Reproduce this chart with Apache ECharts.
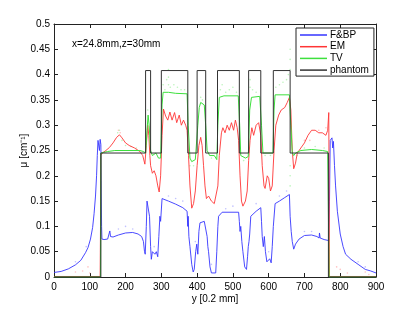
<!DOCTYPE html>
<html>
<head>
<meta charset="utf-8">
<script src="https://cdn.jsdelivr.net/npm/echarts@6/dist/echarts.min.js"></script>
<style>html,body{margin:0;padding:0;background:#fff;}#c{width:415px;height:313px;}</style>
</head>
<body>
<div id="c"></div>
<script>
const xTicks = [0, 100, 200, 300, 400, 500, 600, 700, 800, 900];
const yTicks = [0, 0.05, 0.1, 0.15, 0.2, 0.25, 0.3, 0.35, 0.4, 0.45, 0.5];
const seriesNames = ['F&BP', 'EM', 'TV', 'phantom'];

const fbp = [[0,0.009],[20,0.011],[40,0.016],[60,0.024],[75,0.033],[88,0.048],[95,0.058],[102,0.075],[108,0.098],[112,0.125],[116,0.16],[119,0.2],[121,0.24],[123,0.27],[125,0.268],[127,0.25],[129,0.272],[131,0.262],[132,0.19],[133,0.1],[134,0.075],[140,0.074],[150,0.075],[154,0.078],[156,0.091],[158,0.08],[165,0.079],[180,0.083],[200,0.087],[220,0.088],[235,0.085],[245,0.08],[250,0.07],[253,0.05],[255,0.045],[258,0.1],[260,0.15],[264,0.148],[267,0.12],[270,0.06],[272,0.035],[275,0.05],[278,0.052],[282,0.045],[286,0.05],[290,0.04],[293,0.08],[296,0.12],[298,0.11],[302,0.155],[320,0.15],[340,0.144],[360,0.137],[372,0.13],[374,0.1],[375,0.12],[377,0.08],[380,0.06],[385,0.025],[389,0.01],[392,0.015],[396,0.05],[399,0.065],[402,0.045],[405,0.09],[408,0.107],[420,0.11],[425,0.108],[428,0.08],[430,0.06],[432,0.05],[436,0.02],[440,0.008],[452,0.008],[455,0.05],[458,0.1],[460,0.12],[470,0.128],[516,0.128],[518,0.11],[520,0.09],[522,0.1],[525,0.07],[528,0.05],[533,0.02],[538,0.015],[541,0.04],[543,0.06],[545,0.07],[547,0.085],[550,0.12],[565,0.13],[578,0.137],[580,0.11],[582,0.08],[585,0.06],[588,0.08],[591,0.05],[595,0.03],[600,0.032],[603,0.036],[607,0.028],[610,0.06],[613,0.1],[618,0.145],[630,0.15],[645,0.157],[658,0.163],[660,0.12],[663,0.09],[666,0.07],[670,0.055],[675,0.065],[685,0.075],[700,0.082],[720,0.083],[735,0.08],[741,0.077],[742,0.087],[744,0.077],[755,0.074],[768,0.072],[770,0.15],[772,0.27],[775,0.27],[777,0.275],[779,0.255],[781,0.268],[784,0.22],[787,0.18],[792,0.13],[800,0.085],[808,0.06],[815,0.045],[830,0.035],[850,0.025],[870,0.015],[885,0.012],[900,0.008]];

const em = [[0,0.001],[129,0.001],[130,0.1],[131,0.24],[135,0.245],[145,0.25],[155,0.256],[165,0.265],[175,0.276],[183,0.281],[190,0.275],[200,0.265],[210,0.26],[225,0.255],[240,0.248],[248,0.24],[254,0.223],[258,0.26],[262,0.3],[265,0.28],[268,0.24],[270,0.22],[275,0.205],[280,0.21],[285,0.2],[290,0.18],[294,0.168],[298,0.2],[302,0.28],[306,0.332],[312,0.318],[318,0.31],[324,0.326],[330,0.31],[337,0.325],[343,0.305],[350,0.32],[356,0.3],[362,0.31],[368,0.3],[372,0.29],[376,0.24],[380,0.18],[385,0.136],[390,0.145],[395,0.17],[400,0.22],[405,0.26],[410,0.276],[414,0.26],[418,0.22],[422,0.18],[426,0.155],[432,0.16],[440,0.15],[448,0.145],[453,0.142],[458,0.18],[462,0.24],[468,0.285],[472,0.295],[478,0.285],[484,0.3],[490,0.29],[496,0.305],[502,0.29],[507,0.31],[512,0.295],[516,0.27],[520,0.2],[524,0.15],[528,0.14],[535,0.15],[540,0.17],[544,0.23],[548,0.27],[553,0.295],[558,0.28],[565,0.3],[572,0.305],[578,0.28],[582,0.22],[587,0.18],[590,0.175],[596,0.2],[600,0.195],[605,0.17],[610,0.18],[615,0.25],[620,0.3],[628,0.32],[635,0.33],[645,0.335],[652,0.345],[658,0.355],[662,0.33],[666,0.25],[670,0.214],[675,0.225],[680,0.245],[690,0.255],[700,0.265],[710,0.28],[720,0.29],[730,0.29],[740,0.285],[750,0.285],[760,0.28],[765,0.29],[768,0.325],[770,0.001],[900,0.001]];

const tv = [[0,0],[130,0],[131,0.245],[150,0.248],[170,0.25],[240,0.25],[250,0.248],[256,0.245],[260,0.29],[263,0.32],[266,0.3],[270,0.25],[275,0.24],[285,0.245],[292,0.235],[298,0.235],[302,0.34],[305,0.365],[320,0.365],[340,0.363],[372,0.362],[375,0.3],[380,0.235],[385,0.228],[395,0.232],[402,0.3],[406,0.335],[410,0.345],[420,0.34],[424,0.3],[428,0.25],[435,0.24],[448,0.24],[455,0.232],[458,0.3],[462,0.355],[475,0.358],[515,0.358],[519,0.3],[522,0.24],[535,0.235],[543,0.238],[547,0.33],[552,0.355],[575,0.357],[580,0.3],[584,0.245],[612,0.245],[615,0.33],[618,0.36],[658,0.36],[662,0.3],[666,0.245],[670,0.24],[675,0.245],[690,0.25],[720,0.252],[750,0.25],[765,0.248],[768,0.245],[769,0],[900,0]];

const phantom = [[0,0],[131,0],[131,0.245],[256,0.245],[256,0.408],[270,0.408],[270,0.245],[300,0.245],[300,0.408],[374,0.408],[374,0.245],[400,0.245],[400,0.408],[424,0.408],[424,0.245],[457,0.245],[457,0.408],[518,0.408],[518,0.245],[544,0.245],[544,0.408],[578,0.408],[578,0.245],[613,0.245],[613,0.408],[660,0.408],[660,0.245],[767,0.245],[767,0],[900,0]];

const tvNoise = [[178,0.285],[183,0.29],[190,0.27],[200,0.26],[215,0.258],[230,0.255],[262,0.33],[305,0.38],[310,0.37],[315,0.39],[320,0.41],[320,0.395],[320,0.38],[325,0.375],[335,0.38],[345,0.375],[355,0.37],[365,0.37],[380,0.22],[390,0.22],[410,0.355],[415,0.35],[440,0.235],[465,0.37],[470,0.38],[480,0.365],[490,0.37],[500,0.375],[510,0.365],[530,0.23],[548,0.39],[548,0.375],[555,0.37],[565,0.365],[590,0.24],[605,0.24],[620,0.375],[630,0.38],[640,0.385],[650,0.39],[655,0.4],[660,0.45],[660,0.43],[660,0.41],[660,0.22],[660,0.2],[660,0.18],[680,0.24],[700,0.255],[730,0.258],[755,0.255]];
const emNoise = [[60,0.01],[80,0.012],[95,0.02],[100,0.008],[180,0.29],[185,0.285],[700,0.27],[715,0.27],[740,0.29],[760,0.295],[790,0.02],[800,0.015],[820,0.008],[870,0.01],[880,0.005]];
const fbpNoise = [[60,0.03],[90,0.06],[180,0.095],[200,0.1],[220,0.095],[280,0.06],[320,0.16],[340,0.155],[360,0.15],[395,0.07],[440,0.025],[480,0.135],[500,0.14],[565,0.145],[600,0.05],[630,0.16],[650,0.17],[700,0.09],[720,0.09],[850,0.03],[870,0.02]];

const C = {blue:'#3535ff', red:'#ff3535', green:'#3de03d', black:'#333333'};
const chart = echarts.init(document.getElementById('c'), null, {renderer:'canvas'});
const font = 'Liberation Sans, Arial, sans-serif';
const xBase = {type:'value', min:0, max:900, interval:100, splitLine:{show:false},
  axisLine:{show:true, onZero:false, lineStyle:{color:'#222', width:1}},
  axisTick:{show:true, inside:true, length:4, lineStyle:{color:'#222'}}};
const yBase = {type:'value', min:0, max:0.5, interval:0.05, splitLine:{show:false},
  axisLine:{show:true, onZero:false, lineStyle:{color:'#222', width:1}},
  axisTick:{show:true, inside:true, length:4, lineStyle:{color:'#222'}}};
function line(name, data, color, w){
  return {name, type:'line', data, showSymbol:false, symbol:'none', animation:false,
    lineStyle:{color, width:w}, itemStyle:{color}, xAxisIndex:0, yAxisIndex:0, z:3};
}
function dots(data, color){
  return {type:'scatter', data, symbolSize:1.6, animation:false, itemStyle:{color, opacity:0.6}, silent:true, z:2};
}
chart.setOption({
  backgroundColor:'#fff',
  textStyle:{fontFamily:font},
  grid:{left:54, right:39, top:24, bottom:36},
  xAxis:[
    Object.assign({}, xBase, {position:'bottom', axisLabel:{color:'#000', fontSize:10, margin:5, fontFamily:font,
      formatter:v=>xTicks.includes(v)?String(v):''},
      name:'y [0.2 mm]', nameLocation:'middle', nameGap:17, nameMoveOverlap:false,
      nameTextStyle:{color:'#000', fontSize:10, fontFamily:font}}),
    Object.assign({}, xBase, {position:'top', axisLabel:{show:false}})
  ],
  yAxis:[
    Object.assign({}, yBase, {position:'left', axisLabel:{color:'#000', fontSize:10, margin:4, fontFamily:font,
      formatter:v=>{const t=yTicks.find(u=>Math.abs(u-v)<1e-9); return t===undefined?'':String(t);}},
      name:'μ [cm⁻¹]', nameLocation:'middle', nameGap:25, nameMoveOverlap:false,
      nameTextStyle:{color:'#000', fontSize:10, fontFamily:font}}),
    Object.assign({}, yBase, {position:'right', axisLabel:{show:false}})
  ],
  legend:{data:seriesNames, orient:'vertical', left:296, top:28, width:75,
    itemWidth:27, itemHeight:1.5, itemGap:1.7, icon:'rect',
    padding:[2,5,1,4], borderColor:'#222', borderWidth:1, backgroundColor:'#fff',
    textStyle:{color:'#000', fontSize:10, lineHeight:10, fontFamily:font, padding:[0,0,0,-2]}},
  graphic:[{type:'text', left:72, top:39, style:{text:'x=24.8mm,z=30mm', fill:'#000', font:'10px '+font}}],
  series:[
    dots(tvNoise, '#8fef8f'), dots(emNoise, '#ff9a9a'), dots(fbpNoise, '#9a9aff'),
    line(seriesNames[0], fbp, C.blue, 0.9),
    line(seriesNames[1], em, C.red, 0.9),
    line(seriesNames[2], tv, C.green, 1),
    line(seriesNames[3], phantom, C.black, 1)
  ]
});
</script>
</body>
</html>
